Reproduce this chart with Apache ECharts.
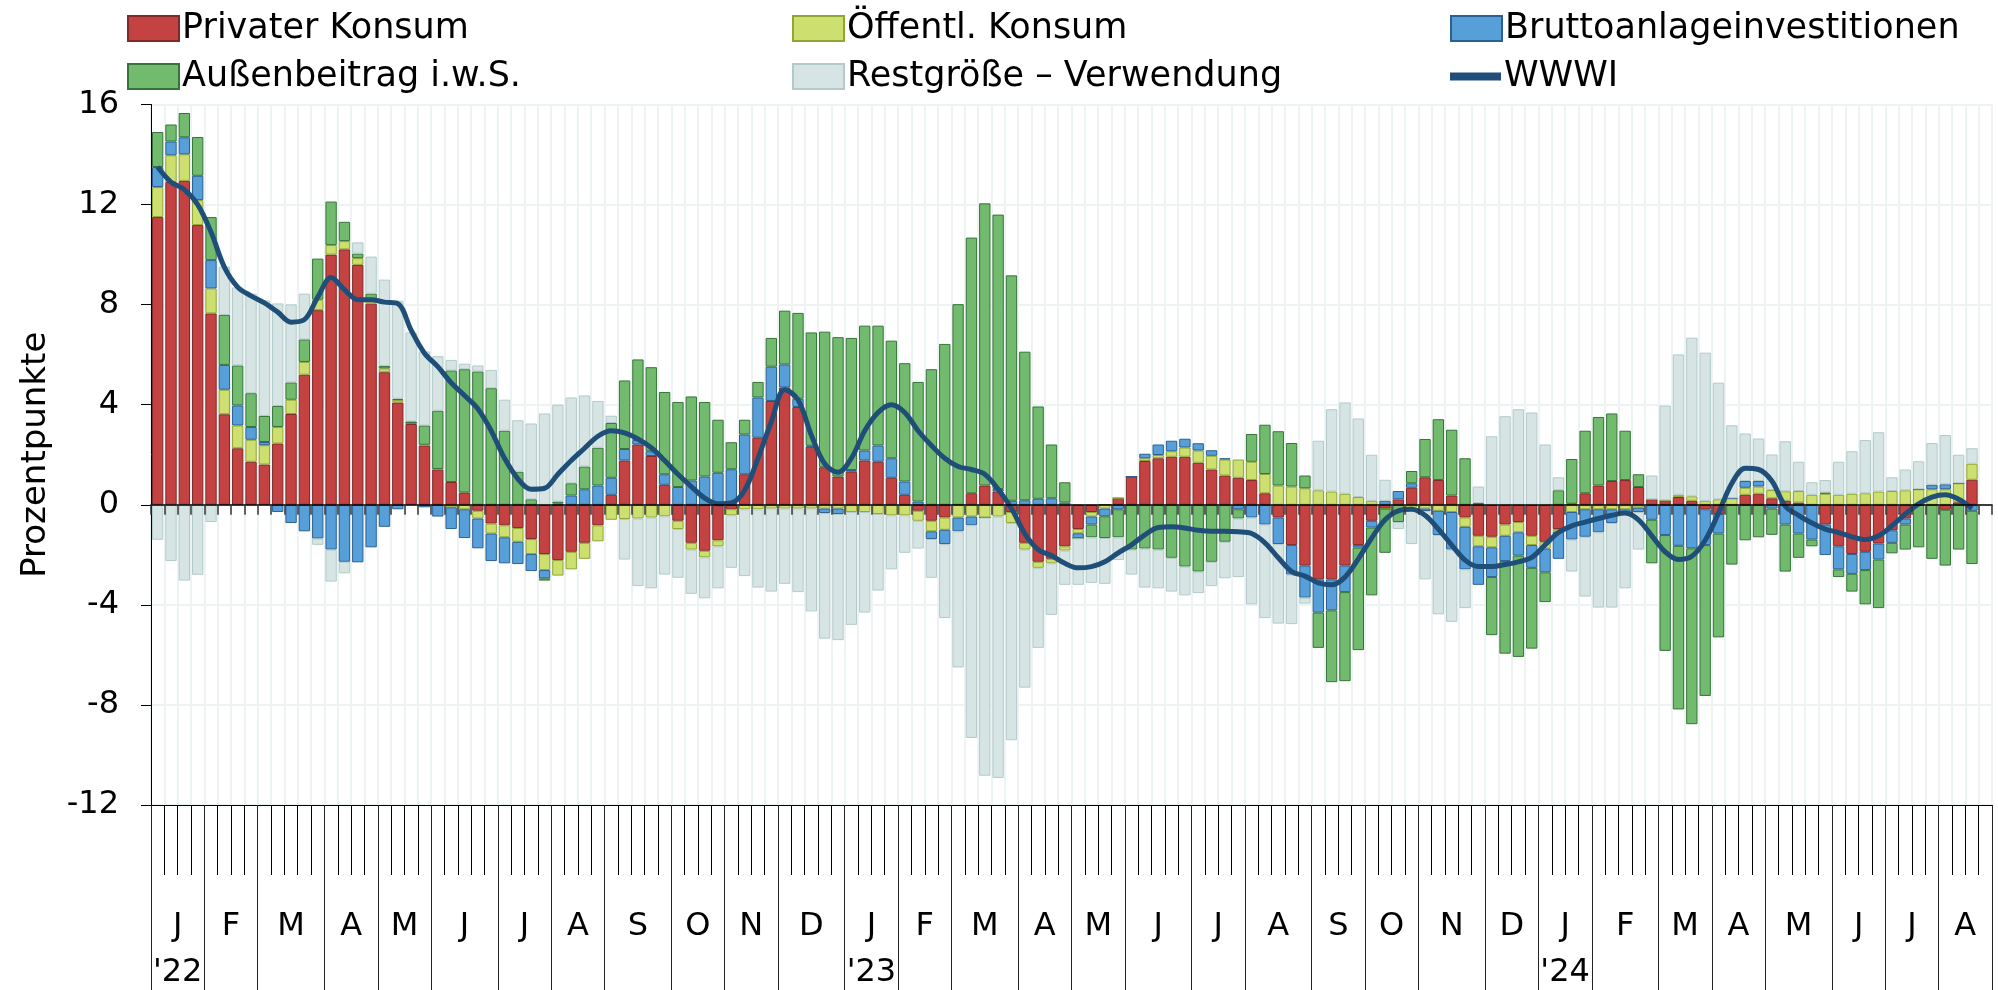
<!DOCTYPE html>
<html>
<head>
<meta charset="utf-8">
<script src="https://cdn.jsdelivr.net/npm/echarts@6/dist/echarts.min.js"></script>
<style>
  html, body { margin: 0; padding: 0; background: #fff; }
  #chart { width: 1998px; height: 990px; }
</style>
</head>
<body>
<div id="chart"></div>
<script>
// months shown on the axis, and how many weekly bars fall into each one
const monthLetters = ['J','F','M','A','M','J','J','A','S','O','N','D',
                      'J','F','M','A','M','J','J','A','S','O','N','D',
                      'J','F','M','A','M','J','J','A'];
const monthWeeks = [4,4,5,4,4,5,4,4,5,4,4,5,
                    4,4,5,4,4,5,4,5,4,4,5,4,
                    4,5,4,4,5,4,4,4];
const yearLabels = ["'22", "'23", "'24"];

// weekly contributions in Prozentpunkte
const privat = [
  11.5, 12.9, 12.95, 11.18, 7.65, 3.62, 2.26, 1.72, 1.61, 2.45, 3.63, 5.2, 7.78, 10.0, 10.21, 9.59, 8.04, 5.3,
  4.09, 3.23, 2.37, 1.41, 0.91, 0.49, -0.24, -0.75, -0.82, -0.93, -1.37, -1.97, -2.21, -1.88, -1.52, -0.82, 0.4,
  1.77, 2.41, 1.95, 0.8, -0.64, -1.52, -1.84, -1.42, -0.18, 1.22, 2.68, 4.15, 4.69, 3.91, 2.32, 1.5, 1.13,
  1.32, 1.77, 1.72, 1.08, 0.4, -0.24, -0.64, -0.51, 0, 0.46, 0.77, 0.53, -0.29, -1.52, -2.28, -2.16, -1.66,
  -0.97, -0.29, 0, 0.27, 1.13, 1.75, 1.86, 1.92, 1.92, 1.68, 1.41, 1.17, 1.08, 0.99, 0.46, -0.51, -1.61, -2.43,
  -2.98, -2.98, -2.43, -1.61, -0.64, -0.15, 0.22, 0.68, 1.1, 0.99, 0.37, -0.51, -1.24, -1.28, -0.79, -0.69, -1.24,
  -1.48, -0.97, 0.04, 0.46, 0.77, 0.95, 0.99, 0.71, 0.22, 0.18, 0.31, 0.16, -0.18, -0.37, 0, 0.4, 0.44, 0.26,
  0.16, 0.09, 0, -0.79, -1.66, -1.97, -1.88, -1.55, -1.02, -0.55, 0, 0, -0.2, 0.1, 1.0
];
const oeffentlich = [
  1.2, 1.07, 1.06, 1.0, 1.0, 0.98, 0.91, 0.88, 0.77, 0.66, 0.57, 0.51, 0.42, 0.38, 0.33, 0.27, 0.1, 0.15,
  0.1, 0.05, 0.03, 0.02, -0.1, -0.18, -0.31, -0.4, -0.48, -0.55, -0.6, -0.64, -0.62, -0.7, -0.64, -0.64, -0.6,
  -0.57, -0.55, -0.51, -0.46, -0.33, -0.27, -0.26, -0.24, -0.24, -0.18, -0.18, -0.15, -0.15, -0.15, -0.15, -0.15, -0.15,
  -0.29, -0.29, -0.37, -0.42, -0.42, -0.4, -0.42, -0.49, -0.51, -0.47, -0.51, -0.47, -0.44, -0.27, -0.24, -0.18, -0.17,
  -0.17, -0.18, -0.15, 0, 0, 0.11, 0.13, 0.22, 0.37, 0.49, 0.55, 0.64, 0.73, 0.73, 0.77, 0.77, 0.73, 0.66,
  0.58, 0.53, 0.44, 0.31, 0.16, 0, 0, -0.11, -0.15, -0.24, -0.29, -0.37, -0.42, -0.42, -0.45, -0.41, -0.37,
  -0.27, -0.1, -0.29, -0.18, -0.18, -0.18, -0.18, -0.11, 0, 0, 0.09, 0.18, 0.16, 0.22, 0.26, 0.28, 0.29, 0.33,
  0.38, 0.46, 0.4, 0.44, 0.4, 0.44, 0.46, 0.53, 0.55, 0.58, 0.62, 0.62, 0.62, 0.76, 0.64
];
const investitionen = [
  0.8, 0.55, 0.68, 0.97, 1.13, 0.99, 0.8, 0.51, 0.13, -0.29, -0.73, -1.06, -1.35, -1.79, -2.28, -2.3, -1.7, -0.88,
  -0.18, 0, -0.1, -0.47, -0.87, -1.15, -1.19, -1.1, -1.04, -0.89, -0.68, -0.33, 0.05, 0.37, 0.62, 0.77, 0.68,
  0.46, 0.18, 0.19, 0.42, 0.71, 0.97, 1.13, 1.28, 1.42, 1.59, 1.61, 1.37, 0.92, 0.33, 0.04, -0.18, -0.22,
  0.07, 0.4, 0.65, 0.78, 0.53, 0.13, -0.31, -0.57, -0.55, -0.35, 0, 0.1, 0.16, 0.18, 0.24, 0.26, 0.09,
  -0.2, -0.32, -0.31, -0.18, 0, 0.18, 0.42, 0.42, 0.35, 0.29, 0.22, 0.05, -0.18, -0.51, -0.79, -1.06, -1.18, -1.28,
  -1.33, -1.24, -1.06, -0.1, -0.27, 0.16, 0.33, 0.18, -0.1, -0.97, -1.5, -1.7, -1.54, -1.19, -1.01, -0.93, -0.91,
  -0.95, -1.09, -1.1, -1.1, -0.92, -0.55, -0.11, -0.18, -0.6, -1.21, -1.64, -1.74, -1.43, -0.78, 0, 0.27, 0.22, -0.15,
  -0.79, -1.15, -1.39, -1.22, -0.92, -0.79, -0.73, -0.64, -0.5, -0.24, 0, 0.18, 0.2, 0, -0.24
];
const aussenbeitrag = [
  1.4, 0.68, 0.97, 1.55, 1.72, 2.0, 1.6, 1.35, 1.04, 0.84, 0.69, 0.9, 1.64, 1.74, 0.77, 0.18, 0.3, 0.1,
  0.05, 0.05, 0.77, 2.33, 4.46, 4.93, 5.33, 4.66, 2.96, 1.32, 0.22, -0.09, 0.08, 0.49, 0.91, 1.51, 2.19,
  2.74, 3.22, 3.36, 3.29, 3.4, 3.36, 2.98, 2.12, 1.08, 0.59, 0.62, 1.15, 2.15, 3.43, 4.53, 5.42, 5.57,
  5.28, 4.99, 4.79, 4.7, 4.73, 4.78, 5.42, 6.43, 8.02, 10.22, 11.28, 10.97, 9.01, 5.94, 3.69, 2.15, 0.81,
  0, -0.51, -0.87, -1.12, -1.79, -1.75, -1.79, -2.12, -2.47, -2.67, -2.28, -1.48, -0.37, 1.11, 1.97, 2.17, 1.74, 0.51,
  -1.41, -2.87, -3.56, -4.1, -2.71, -1.77, -0.69, 0.49, 1.53, 2.43, 2.63, 1.86, 0.07, -2.32, -3.7, -4.05, -3.23,
  -1.19, 0.58, 1.79, 2.5, 2.74, 2.7, 1.97, 0.51, -1.74, -4.63, -6.54, -7.03, -6.03, -4.15, -2.39, -1.42, -1.3, -1.05,
  -1.88, -0.97, -0.27, 0.05, -0.31, -0.71, -1.37, -1.94, -0.42, -1.0, -1.7, -2.16, -2.23, -1.79, -2.13
];
const restgroesse = [
  -1.4, -2.25, -3.03, -2.8, -0.69, 1.93, 3.12, 3.98, 4.62, 4.1, 3.12, 1.83, -0.25, -1.28, -0.46, 0.45, 1.48, 3.45,
  3.92, 3.56, 2.96, 2.18, 0.42, 0.22, 0.24, 0.73, 1.24, 2.06, 3.03, 3.65, 3.87, 3.43, 2.84, 1.87, 0.29,
  -1.62, -2.7, -2.83, -2.33, -1.95, -1.77, -1.64, -1.68, -2.1, -2.67, -3.13, -3.32, -3.01, -3.34, -4.11, -5.02, -5.04,
  -4.51, -4.02, -3.06, -2.16, -1.5, -1.11, -1.55, -2.96, -5.44, -8.5, -10.32, -10.45, -8.68, -5.52, -3.2, -2.06, -1.37,
  -1.86, -1.82, -1.83, -0.91, -1.0, -1.56, -1.55, -1.35, -1.15, -0.86, -0.97, -1.46, -2.34, -3.47, -3.74, -3.18, -1.98, -0.24,
  1.98, 3.29, 3.65, 3.14, 1.84, 0.84, -0.28, -1.46, -2.73, -3.17, -2.89, -1.55, 0.66, 2.74, 3.54, 3.82, 3.69,
  2.41, 0.52, -1.28, -2.39, -3.01, -3.38, -3.05, -1.5, 0.95, 3.78, 5.61, 6.34, 5.92, 4.66, 2.92, 1.9, 1.7, 1.42,
  2.0, 1.17, 0.5, 0.5, 1.32, 1.7, 2.13, 2.37, 0.55, 0.83, 1.12, 1.67, 1.97, 1.14, 0.62
];
const wwwi = [
  13.5, 12.9, 12.6, 12.0, 10.9, 9.5, 8.7, 8.35, 8.07, 7.7, 7.3, 7.4, 8.3, 9.08, 8.6, 8.2, 8.2, 8.1,
  8.04, 6.98, 6.06, 5.52, 4.88, 4.37, 3.84, 2.96, 1.86, 1.04, 0.62, 0.66, 1.22, 1.77, 2.26, 2.74, 2.96,
  2.87, 2.63, 2.28, 1.77, 1.22, 0.73, 0.27, 0.04, 0.07, 0.58, 1.86, 3.32, 4.6, 4.2, 2.78, 1.64, 1.3,
  1.86, 2.96, 3.69, 4.0, 3.69, 2.96, 2.37, 1.86, 1.53, 1.41, 1.22, 0.62, -0.15, -1.15, -1.79, -2.03, -2.34,
  -2.52, -2.47, -2.28, -1.92, -1.6, -1.2, -0.91, -0.88, -0.93, -1.02, -1.06, -1.06, -1.08, -1.15, -1.52, -2.12, -2.67, -2.85,
  -3.12, -3.2, -2.89, -2.16, -1.33, -0.6, -0.24, -0.18, -0.42, -0.97, -1.61, -2.21, -2.47, -2.47, -2.39, -2.28, -2.1,
  -1.6, -1.11, -0.84, -0.69, -0.55, -0.42, -0.33, -0.6, -1.24, -1.88, -2.19, -2.06, -1.42, -0.33, 0.86, 1.46, 1.41, 0.95,
  -0.05, -0.42, -0.73, -0.97, -1.11, -1.28, -1.39, -1.24, -0.84, -0.37, 0.04, 0.31, 0.4, 0.22, -0.15
];

const yTicks = { min: -12, max: 16, step: 4 };

// week categories + month boundaries/centres built from the month lists
const weeks = [];
const monthBounds = [0];
const monthCenters = [];
const labelAt = {};
monthWeeks.forEach(function (n, m) {
  const start = monthBounds[monthBounds.length - 1];
  for (let w = 0; w < n; w++) weeks.push(m + '-' + w);
  monthBounds.push(start + n);
  const c = start + n / 2;
  monthCenters.push(c);
  let txt = '{m|' + monthLetters[m] + '}';
  if (m % 12 === 0) txt += '\n{y|' + yearLabels[m / 12] + '}';
  labelAt[c.toFixed(1)] = txt;
});
const nWeeks = weeks.length;

const FONT = 'DejaVu Sans';
const textBase = { fontFamily: FONT, fontSize: 32, color: '#000' };

const names = ['Privater Konsum', 'Öffentl. Konsum', 'Bruttoanlageinvestitionen',
               'Außenbeitrag i.w.S.', 'Restgröße – Verwendung', 'WWWI'];
const fills = ['#C54243', '#CDE06F', '#569FD9', '#72BA6E', '#D6E4E4', '#1F4E79'];
const borders = ['#7E2A2A', '#8FA534', '#2D6092', '#36743A', '#B3CACA', '#1F4E79'];
const barData = [privat, oeffentlich, investitionen, aussenbeitrag, restgroesse];

const legendPos = [
  [127, 11], [792, 11], [1450, 11],
  [127, 59], [792, 59], [1450, 59]
];

const chart = echarts.init(document.getElementById('chart'), null, { renderer: 'canvas' });

var option = {
  animation: false,
  backgroundColor: '#fff',
  textStyle: { fontFamily: FONT },
  grid: { left: 151, right: 6, top: 104.5, bottom: 185, containLabel: false },
  legend: names.map(function (n, i) {
    return {
      data: [n],
      left: legendPos[i][0],
      top: legendPos[i][1],
      padding: 0,
      icon: 'rect',
      itemWidth: 51,
      itemHeight: i === 5 ? 8 : 25,
      selectedMode: false,
      textStyle: { fontFamily: FONT, fontSize: 35, color: '#000', padding: [0, 0, 0, -2] }
    };
  }),
  xAxis: [
    {
      // zero line with short weekly ticks
      type: 'category', data: weeks, z: 10,
      axisLine: { onZero: true, lineStyle: { color: '#000', width: 1.5 } },
      axisTick: { show: true, interval: 0, length: 10, lineStyle: { color: '#333', width: 1.5 } },
      axisLabel: { show: false },
      splitLine: { show: false }
    },
    {
      // bottom axis with weekly ticks and faint vertical grid
      type: 'category', data: weeks, position: 'bottom',
      axisLine: { onZero: false, lineStyle: { color: '#000', width: 1 } },
      axisTick: { show: true, interval: 0, length: 70, lineStyle: { color: '#000', width: 1 } },
      axisLabel: { show: false },
      splitLine: { show: true, interval: 0, lineStyle: { color: '#EDF3F3', width: 2 } }
    },
    {
      // month boundaries and month letters
      type: 'value', min: 0, max: nWeeks, position: 'bottom',
      axisLine: { show: false, onZero: false },
      splitLine: { show: false },
      axisTick: { show: true, customValues: monthBounds, length: 185,
                  lineStyle: { color: '#222', width: 1 } },
      axisLabel: {
        customValues: monthCenters,
        margin: 99,
        formatter: function (v) { return labelAt[Number(v).toFixed(1)] || ''; },
        rich: {
          m: Object.assign({}, textBase, { lineHeight: 46 }),
          y: Object.assign({}, textBase, { lineHeight: 46 })
        }
      }
    }
  ],
  yAxis: {
    type: 'value',
    min: yTicks.min, max: yTicks.max, interval: yTicks.step,
    name: 'Prozentpunkte',
    nameLocation: 'middle',
    nameGap: 98,
    nameTextStyle: Object.assign({}, textBase, { fontSize: 34 }),
    axisLine: { show: true, lineStyle: { color: '#000', width: 1 } },
    axisTick: { show: true, length: 10, lineStyle: { color: '#000' } },
    axisLabel: Object.assign({ margin: 32 }, textBase),
    splitLine: { show: true, lineStyle: { color: '#EDF3F3', width: 2 } }
  },
  series: barData.map(function (d, i) {
    return {
      name: names[i],
      type: 'bar',
      stack: 'beitrag',
      xAxisIndex: 0,
      barCategoryGap: '15%',
      data: d,
      itemStyle: { color: fills[i], borderColor: borders[i], borderWidth: 1 }
    };
  }).concat([{
    name: names[5],
    type: 'line',
    xAxisIndex: 0,
    data: wwwi,
    smooth: 0.35,
    showSymbol: false,
    z: 5,
    lineStyle: { color: fills[5], width: 5 },
    itemStyle: { color: fills[5] }
  }])
};

option && chart.setOption(option);
</script>
</body>
</html>
